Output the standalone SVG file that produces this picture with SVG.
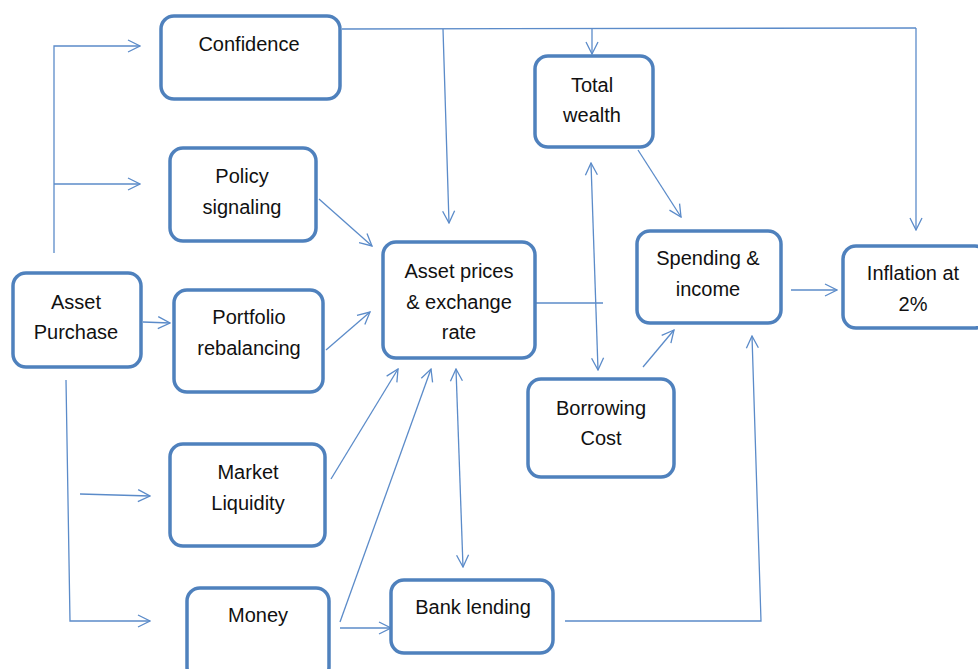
<svg xmlns="http://www.w3.org/2000/svg" width="978" height="669" viewBox="0 0 978 669">
<style>
.box{fill:#fff;stroke:#4f81bd;stroke-width:3.5}
.t{font-family:"Liberation Sans",Arial,sans-serif;font-size:20px;fill:#111;text-anchor:middle}
.c{fill:none;stroke:#5b8bc9;stroke-width:1.3}
</style>
<defs>
<marker id="a" viewBox="0 0 14 14" refX="13" refY="7" markerWidth="14" markerHeight="14" markerUnits="userSpaceOnUse" orient="auto-start-reverse">
<path d="M1,1 L13,7 L1,13" fill="none" stroke="#5b8bc9" stroke-width="1.3"/>
</marker>
</defs>
<rect width="978" height="669" fill="#fff"/>
<g id="connectors">
<polyline class="c" points="54,253 54,46 140,46" marker-end="url(#a)"/>
<line class="c" x1="54" y1="184" x2="140" y2="184" marker-end="url(#a)"/>
<line class="c" x1="143" y1="322" x2="170" y2="323" marker-end="url(#a)"/>
<polyline class="c" points="66,380 70,621 150,621" marker-end="url(#a)"/>
<line class="c" x1="80" y1="494" x2="150" y2="496" marker-end="url(#a)"/>
<line class="c" x1="319" y1="199" x2="372" y2="246" marker-end="url(#a)"/>
<line class="c" x1="326" y1="350" x2="370" y2="312" marker-end="url(#a)"/>
<line class="c" x1="331" y1="479" x2="398" y2="369" marker-end="url(#a)"/>
<line class="c" x1="340" y1="622" x2="431" y2="369" marker-end="url(#a)"/>
<line class="c" x1="340" y1="628" x2="391" y2="628" marker-end="url(#a)"/>
<line class="c" x1="456" y1="369" x2="463" y2="567" marker-start="url(#a)" marker-end="url(#a)"/>
<line class="c" x1="342" y1="29" x2="916" y2="28"/>
<line class="c" x1="443" y1="29" x2="449" y2="223" marker-end="url(#a)"/>
<line class="c" x1="592" y1="29" x2="592" y2="54" marker-end="url(#a)"/>
<line class="c" x1="916" y1="28" x2="916" y2="230" marker-end="url(#a)"/>
<line class="c" x1="638" y1="150" x2="681" y2="217" marker-end="url(#a)"/>
<line class="c" x1="591" y1="163" x2="598" y2="370" marker-start="url(#a)" marker-end="url(#a)"/>
<line class="c" x1="536" y1="303" x2="603" y2="303"/>
<line class="c" x1="643" y1="367" x2="674" y2="330" marker-end="url(#a)"/>
<line class="c" x1="791" y1="290" x2="837" y2="290" marker-end="url(#a)"/>
<polyline class="c" points="565,621 761,621 752,336" marker-end="url(#a)"/>
</g>
<g id="confidence"><rect class="box" x="161" y="16" width="179" height="83" rx="13"/><text class="t" x="249" y="51">Confidence</text></g>
<g id="policy"><rect class="box" x="170" y="148" width="146" height="93" rx="13"/><text class="t" x="242" y="183">Policy</text><text class="t" x="242" y="214">signaling</text></g>
<g id="asset-purchase"><rect class="box" x="13" y="273" width="128" height="94" rx="13"/><text class="t" x="76" y="309">Asset</text><text class="t" x="76" y="339">Purchase</text></g>
<g id="portfolio"><rect class="box" x="174" y="290" width="149" height="102" rx="13"/><text class="t" x="249" y="324">Portfolio</text><text class="t" x="249" y="355">rebalancing</text></g>
<g id="market"><rect class="box" x="170" y="444" width="155" height="102" rx="13"/><text class="t" x="248" y="479">Market</text><text class="t" x="248" y="510">Liquidity</text></g>
<g id="money"><rect class="box" x="187" y="588" width="142" height="92" rx="13"/><text class="t" x="258" y="622">Money</text></g>
<g id="bank"><rect class="box" x="391" y="580" width="162" height="73" rx="13"/><text class="t" x="473" y="614">Bank lending</text></g>
<g id="asset-prices"><rect class="box" x="383" y="242" width="152" height="116" rx="13"/><text class="t" x="459" y="278">Asset prices</text><text class="t" x="459" y="309">&amp; exchange</text><text class="t" x="459" y="339">rate</text></g>
<g id="total-wealth"><rect class="box" x="535" y="56" width="118" height="91" rx="13"/><text class="t" x="592" y="92">Total</text><text class="t" x="592" y="122">wealth</text></g>
<g id="spending"><rect class="box" x="637" y="231" width="144" height="92" rx="13"/><text class="t" x="708" y="265">Spending &amp;</text><text class="t" x="708" y="296">income</text></g>
<g id="inflation"><rect class="box" x="843" y="246" width="145" height="82" rx="13"/><text class="t" x="913" y="280">Inflation at</text><text class="t" x="913" y="311">2%</text></g>
<g id="borrowing"><rect class="box" x="528" y="379" width="146" height="98" rx="13"/><text class="t" x="601" y="415">Borrowing</text><text class="t" x="601" y="445">Cost</text></g>
</svg>
